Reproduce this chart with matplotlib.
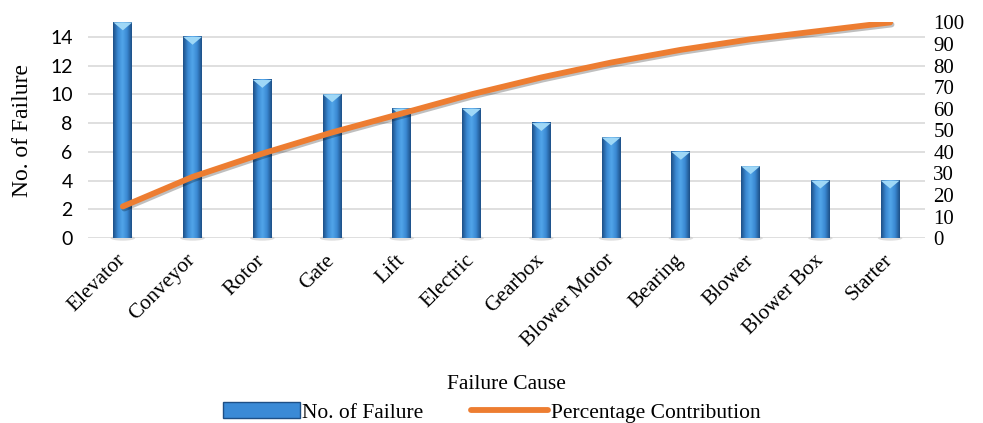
import numpy as np
import matplotlib.pyplot as plt
from matplotlib.patches import Polygon, Ellipse, Patch
from matplotlib.lines import Line2D
from matplotlib.colors import LinearSegmentedColormap
import matplotlib.patheffects as pe

causes = ['Elevator', 'Conveyor', 'Rotor', 'Gate', 'Lift', 'Electric', 'Gearbox',
          'Blower Motor', 'Bearing', 'Blower', 'Blower Box', 'Starter']
failures = [15, 14, 11, 10, 9, 9, 8, 7, 6, 5, 4, 4]
pct_contrib = [14.7, 28.4, 39.2, 49.0, 57.8, 66.7, 74.5, 81.4, 87.3, 92.2, 96.1, 100.0]

serif = 'Liberation Serif'
sans = 'Lato'

fig = plt.figure(figsize=(9.83, 4.23), dpi=100)
ax = fig.add_axes([0.0895, 0.437, 0.8515, 0.51])
ax2 = ax.twinx()

x = np.arange(len(causes))
w = 0.27

# cylinder look: dark edges, lighter middle
cyl = LinearSegmentedColormap.from_list('cyl', ['#1d4f86', '#3a88d2', '#52a6ea', '#3a88d2', '#1d4f86'])
grad = np.linspace(0, 1, 64).reshape(1, -1)
for xi, v in zip(x, failures):
    ax.add_patch(Ellipse((xi, 0), w * 1.3, 0.35, color='#bfbfbf', alpha=0.5, lw=0, zorder=1, clip_on=False))
    ax.imshow(grad, cmap=cyl, aspect='auto', extent=(xi - w / 2, xi + w / 2, 0, v), zorder=2, interpolation='bicubic')
    ax.add_patch(Polygon([(xi - w / 2, v), (xi + w / 2, v), (xi, v - 0.55)],
                         closed=True, color='#9fd8f7', lw=0, zorder=3))

ax.set_xlim(-0.5, len(causes) - 0.5)
ax.set_ylim(0, 15)
ax.set_yticks(range(0, 15, 2))
ax.set_xticks(x)
ax.set_xticklabels(causes, rotation=45, ha='right', va='center', rotation_mode='anchor',
                   fontsize=15.5, family=serif)
for lab in ax.get_yticklabels():
    lab.set_family(sans)
    lab.set_fontsize(14)
ax.tick_params(axis='both', length=0)
ax.tick_params(axis='x', pad=14)
ax.tick_params(axis='y', pad=11)
ax.grid(axis='y', color='#d9d9d9', lw=1.2, zorder=0)
ax.set_axisbelow(True)
for s in ax.spines.values():
    s.set_visible(False)
ax.set_ylabel('No. of Failure', fontsize=17, family=serif, labelpad=12)
ax.set_xlabel('Failure Cause', fontsize=15.5, family=serif, labelpad=17)

ax2.plot(x, pct_contrib, color='#ed7d31', lw=4.2, solid_capstyle='round', zorder=5,
         path_effects=[pe.SimpleLineShadow(offset=(1, -1.5), alpha=0.25), pe.Normal()])
ax2.set_ylim(0, 100)
ax2.set_yticks(range(0, 101, 10))
for lab in ax2.get_yticklabels():
    lab.set_family(serif)
    lab.set_fontsize(15)
ax2.tick_params(axis='y', length=0, pad=6)
for s in ax2.spines.values():
    s.set_visible(False)

handles = [Patch(facecolor='#3a8ad6', edgecolor='#1d4f86', lw=1),
           Line2D([0], [0], color='#ed7d31', lw=4.2, solid_capstyle='round')]
fig.legend(handles, ['No. of Failure', 'Percentage Contribution'], loc='lower center',
           bbox_to_anchor=(0.5, -0.045), ncol=2, frameon=False, prop={'family': serif, 'size': 15.5},
           handlelength=3.6, handleheight=0.8, columnspacing=2.2, handletextpad=0.1)

fig.savefig('out.png', dpi=100)
